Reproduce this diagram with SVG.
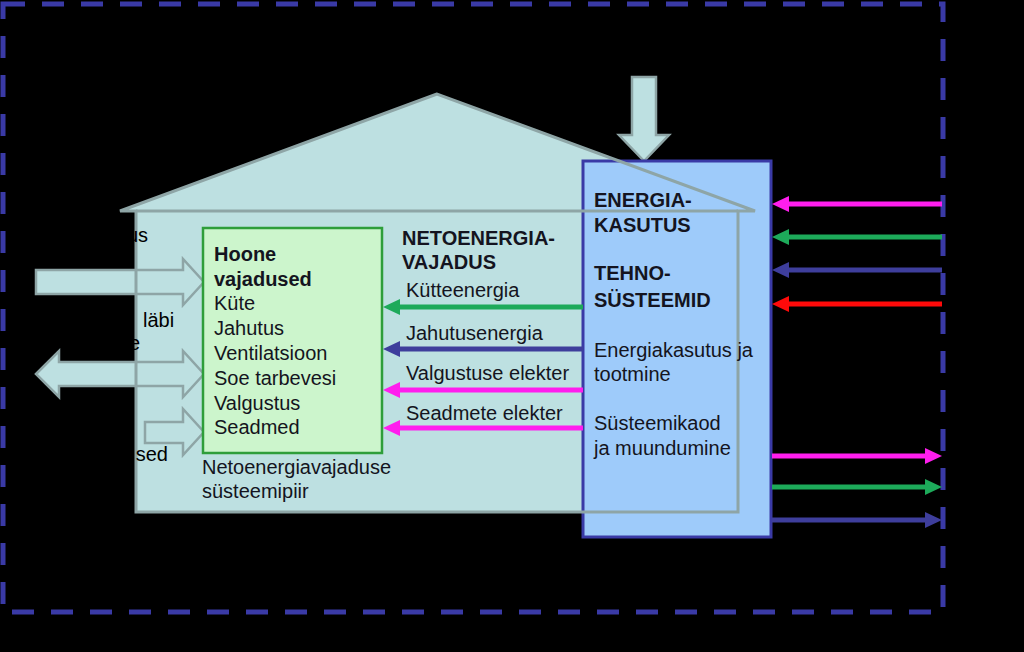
<svg xmlns="http://www.w3.org/2000/svg" width="1024" height="652" viewBox="0 0 1024 652">
<style>
text{font-family:"Liberation Sans",Arial,sans-serif;font-size:20px;fill:#141420}
.b{font-weight:bold}
.house{fill:#BDE0E1}
.houseline{fill:none;stroke:#8EA5A6;stroke-width:3;stroke-linejoin:miter}
.blk{fill:#BDE0E1;stroke:#8EA5A6;stroke-width:2.5}
.c{fill:none;stroke-width:5}
</style>
<defs>
<marker id="mg" markerUnits="userSpaceOnUse" markerWidth="17" markerHeight="16" refX="7" refY="8" orient="auto"><path d="M0,0 L17,8 L0,16 z" fill="#1DAA5A"/></marker>
<marker id="mn" markerUnits="userSpaceOnUse" markerWidth="17" markerHeight="16" refX="7" refY="8" orient="auto"><path d="M0,0 L17,8 L0,16 z" fill="#3E3E9C"/></marker>
<marker id="mm" markerUnits="userSpaceOnUse" markerWidth="17" markerHeight="16" refX="7" refY="8" orient="auto"><path d="M0,0 L17,8 L0,16 z" fill="#FF1EEE"/></marker>
<marker id="mr" markerUnits="userSpaceOnUse" markerWidth="17" markerHeight="16" refX="7" refY="8" orient="auto"><path d="M0,0 L17,8 L0,16 z" fill="#FF0A0A"/></marker>
</defs>
<rect x="0" y="0" width="1024" height="652" fill="#000"/>
<rect id="boundary" x="3" y="4" width="940" height="608" fill="none" stroke="#3A3AA6" stroke-width="5" stroke-dasharray="22 17"/>

<g id="house">
<polygon class="house" points="437,94 120,211 136,211 136,512 738,512 738,211 755,211"/>
</g>

<g id="flows-left">
<polygon class="blk" points="36,270 183,270 183,259 204,282 183,305 183,294 36,294"/>
<polygon class="blk" points="36,374 59,351 59,362 183,362 183,351 204,374 183,397 183,386 59,386 59,397"/>
<polygon class="blk" points="145,422 183,422 183,409 204,432 183,455 183,443 145,443"/>
</g>

<g id="input-top">
<polygon class="blk" points="632,77 656,77 656,135 669,135 644,161 619,135 632,135"/>
</g>

<g id="systems">
<rect x="583" y="161" width="188" height="376" fill="#9ECBFA" stroke="#3A3AA6" stroke-width="3"/>
</g>

<g id="house-outline">
<polygon class="houseline" points="437,94 120,211 136,211 136,512 738,512 738,211 755,211"/>
<line x1="136" y1="211" x2="738" y2="211" stroke="#8EA5A6" stroke-width="3"/>
</g>

<g id="needs">
<rect x="203" y="228" width="179" height="225" fill="#CCF5CC" stroke="#2E9E3A" stroke-width="2.5"/>
<text x="214" y="261" class="b">Hoone</text>
<text x="214" y="286" class="b">vajadused</text>
<text x="214" y="310">Küte</text>
<text x="214" y="335">Jahutus</text>
<text x="214" y="360">Ventilatsioon</text>
<text x="214" y="385">Soe tarbevesi</text>
<text x="214" y="410">Valgustus</text>
<text x="214" y="434">Seadmed</text>
</g>

<g id="boundary-label">
<text x="202" y="474">Netoenergiavajaduse</text>
<text x="202" y="498">süsteemipiir</text>
</g>

<g id="net-label">
<text x="402" y="245" class="b">NETOENERGIA-</text>
<text x="402" y="269" class="b">VAJADUS</text>
<text x="406" y="297">Kütteenergia</text>
<text x="406" y="340">Jahutusenergia</text>
<text x="406" y="380">Valgustuse elekter</text>
<text x="406" y="420">Seadmete elekter</text>
</g>

<g id="systems-text">
<text x="594" y="207" class="b">ENERGIA-</text>
<text x="594" y="232" class="b">KASUTUS</text>
<text x="594" y="280" class="b">TEHNO-</text>
<text x="594" y="307" class="b">SÜSTEEMID</text>
<text x="594" y="357">Energiakasutus ja</text>
<text x="594" y="381">tootmine</text>
<text x="594" y="430">Süsteemikaod</text>
<text x="594" y="455">ja muundumine</text>
</g>

<g id="outside-labels">
<text x="148" y="242" text-anchor="end" style="fill:#000">us</text>
<text x="143" y="327" style="fill:#000">läbi</text>
<text x="140" y="350" text-anchor="end" style="fill:#000">e</text>
<text x="168" y="461" text-anchor="end" style="fill:#000">sed</text>
</g>

<g id="connectors">
<line class="c" x1="583" y1="307" x2="393" y2="307" stroke="#1DAA5A" marker-end="url(#mg)"/>
<line class="c" x1="583" y1="349" x2="393" y2="349" stroke="#3E3E9C" marker-end="url(#mn)"/>
<line class="c" x1="583" y1="390" x2="393" y2="390" stroke="#FF1EEE" marker-end="url(#mm)"/>
<line class="c" x1="583" y1="428" x2="393" y2="428" stroke="#FF1EEE" marker-end="url(#mm)"/>
<line class="c" x1="942" y1="204" x2="782" y2="204" stroke="#FF1EEE" marker-end="url(#mm)"/>
<line class="c" x1="942" y1="237" x2="782" y2="237" stroke="#1DAA5A" marker-end="url(#mg)"/>
<line class="c" x1="942" y1="270" x2="782" y2="270" stroke="#3E3E9C" marker-end="url(#mn)"/>
<line class="c" x1="942" y1="304" x2="782" y2="304" stroke="#FF0A0A" marker-end="url(#mr)"/>
<line class="c" x1="772" y1="456" x2="932" y2="456" stroke="#FF1EEE" marker-end="url(#mm)"/>
<line class="c" x1="772" y1="487" x2="932" y2="487" stroke="#1DAA5A" marker-end="url(#mg)"/>
<line class="c" x1="772" y1="520" x2="932" y2="520" stroke="#3E3E9C" marker-end="url(#mn)"/>
</g>
</svg>
